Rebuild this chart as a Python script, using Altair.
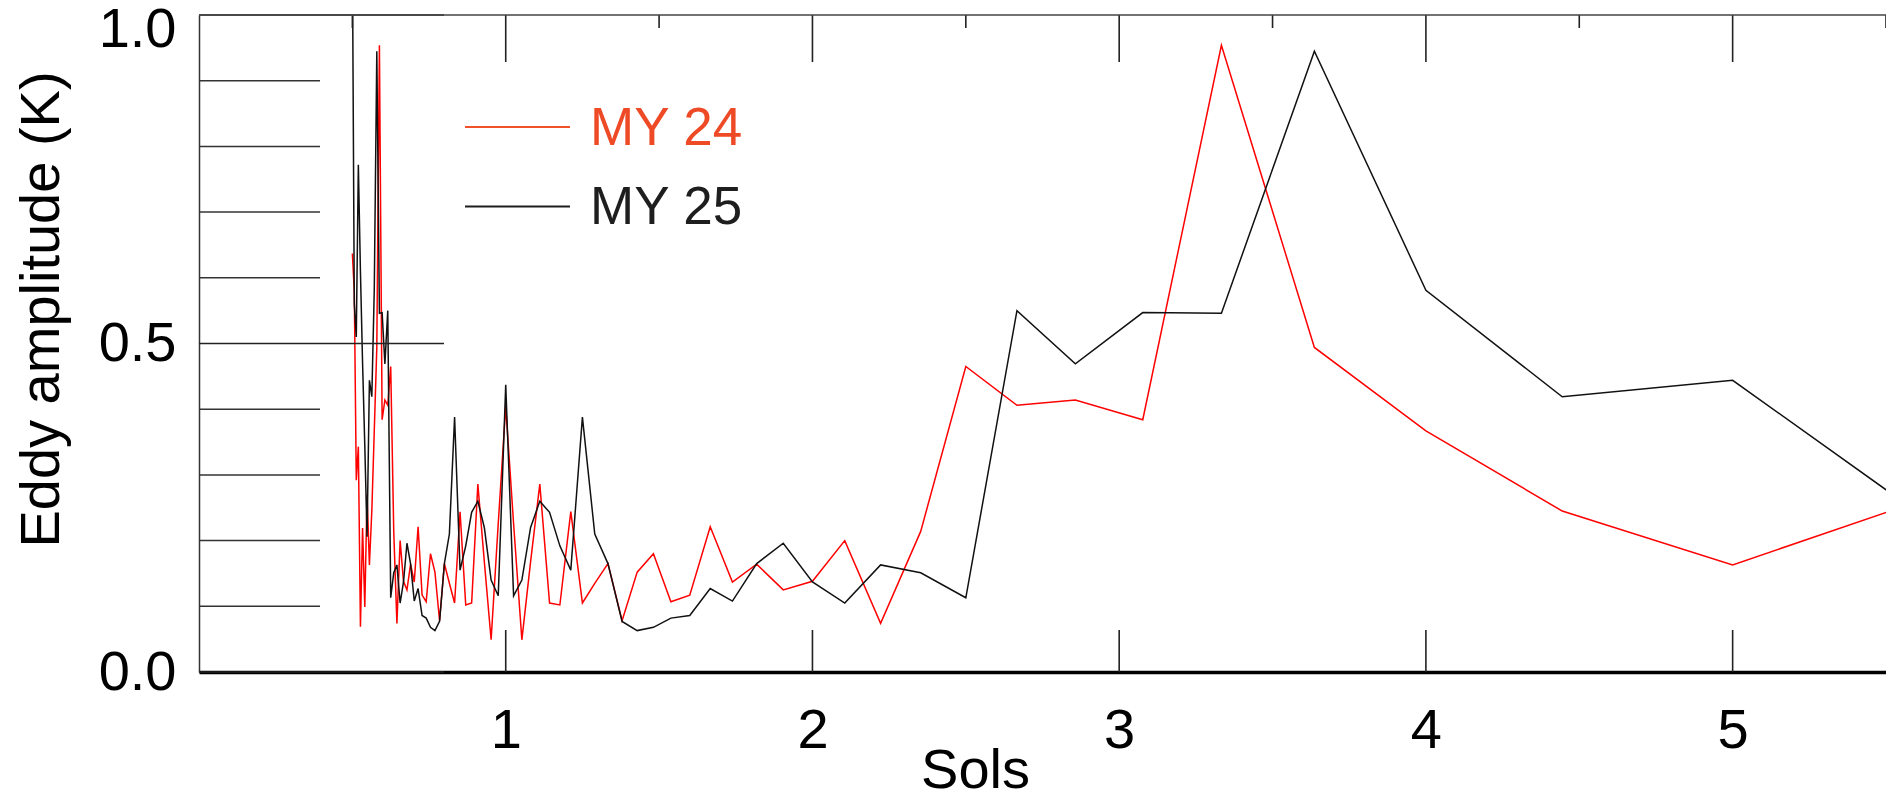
import altair as alt
import pandas as pd

# ---- data (period in sols, eddy amplitude in K) ----
periods_sols = [0.5, 0.5063, 0.5128, 0.5195, 0.5263, 0.5333, 0.5405, 0.5479, 0.5556, 0.5634,
                0.5714, 0.5797, 0.5882, 0.5970, 0.6061, 0.6154, 0.625, 0.6349, 0.6452, 0.6557,
                0.6667, 0.6780, 0.6897, 0.7018, 0.7143, 0.7273, 0.7407, 0.7547, 0.7692, 0.7843,
                0.8, 0.8163, 0.8333, 0.8511, 0.8696, 0.8889, 0.9091, 0.9302, 0.9524, 0.9756,
                1.0, 1.0256, 1.0526, 1.0811, 1.1111, 1.1429, 1.1765, 1.2121, 1.25, 1.2903,
                1.3333, 1.3793, 1.4286, 1.4815, 1.5385, 1.6, 1.6667, 1.7391, 1.8182, 1.9048,
                2.0, 2.1053, 2.2222, 2.3529, 2.5, 2.6667, 2.8571, 3.0769, 3.3333, 3.6364,
                4.0, 4.4444, 5.0, 5.7143]

my24_amp = [0.637, 0.58, 0.292, 0.343, 0.069, 0.219, 0.099, 0.270, 0.163, 0.245,
            0.367, 0.494, 0.954, 0.384, 0.414, 0.406, 0.465, 0.214, 0.074, 0.200,
            0.138, 0.125, 0.164, 0.137, 0.221, 0.117, 0.107, 0.180, 0.152, 0.078,
            0.165, 0.135, 0.105, 0.244, 0.102, 0.105, 0.286, 0.168, 0.049, 0.226,
            0.404, 0.226, 0.049, 0.168, 0.286, 0.105, 0.102, 0.244, 0.105, 0.135,
            0.165, 0.078, 0.152, 0.180, 0.107, 0.117, 0.221, 0.137, 0.164, 0.125,
            0.138, 0.200, 0.074, 0.214, 0.465, 0.406, 0.414, 0.384, 0.954, 0.494,
            0.367, 0.245, 0.163, 0.277]

my25_amp = [1.10, 0.56, 0.51, 0.772, 0.61, 0.47, 0.345, 0.206, 0.444, 0.419,
            0.581, 0.945, 0.546, 0.547, 0.469, 0.550, 0.113, 0.151, 0.163, 0.105,
            0.137, 0.196, 0.165, 0.108, 0.127, 0.086, 0.082, 0.068, 0.063, 0.077,
            0.165, 0.210, 0.388, 0.155, 0.192, 0.243, 0.260, 0.220, 0.140, 0.116,
            0.437, 0.116, 0.140, 0.220, 0.260, 0.243, 0.192, 0.155, 0.388, 0.210,
            0.165, 0.077, 0.063, 0.068, 0.082, 0.086, 0.127, 0.108, 0.165, 0.196,
            0.137, 0.105, 0.163, 0.151, 0.113, 0.550, 0.469, 0.547, 0.546, 0.945,
            0.581, 0.419, 0.444, 0.206]

series_names = ["MY 24", "MY 25"]
series_colors = ["#ff0000", "#111111"]
legend_text_colors = ["#ee4a26", "#1e1e1e"]
legend_line_colors = ["#f0502a", "#1e1e1e"]

x_major_ticks = [1, 2, 3, 4, 5]
x_minor_ticks = [0.5, 1.5, 2.5, 3.5, 4.5, 5.5]
y_major_ticks = [0.0, 0.5, 1.0]
y_minor_ticks = [0.1, 0.2, 0.3, 0.4, 0.6, 0.7, 0.8, 0.9]

# ---- layout ----
W, H = 1687, 657
FONT = "Liberation Sans"
FS = 56

n = len(periods_sols)
df = pd.DataFrame({
    "period": periods_sols * 2,
    "amp": my24_amp + my25_amp,
    "series": [series_names[0]] * n + [series_names[1]] * n,
})

x_scale = alt.Scale(domain=[0, 5.5], nice=False, zero=False)
y_scale = alt.Scale(domain=[0, 1.0], nice=False, zero=False)

x_axis = alt.Axis(
    values=x_major_ticks, format="d", ticks=False, tickSize=0, grid=False,
    domain=True, domainColor="#000000", domainWidth=3.5,
    labelFont=FONT, labelFontSize=FS, labelColor="#000000", labelPadding=31,
    labelFlush=False, labelBaseline="top", labelAlign="center",
    title="Sols", titleFont=FONT, titleFontSize=FS, titleFontWeight="normal",
    titleColor="#000000", titleX=776, titleY=115, titleAlign="center",
    titleBaseline="alphabetic",
)
y_axis = alt.Axis(
    values=y_major_ticks, format=".1f", ticks=False, tickSize=0, grid=False,
    domain=True, domainColor="#333333", domainWidth=1.5,
    labelFont=FONT, labelFontSize=FS, labelColor="#000000", labelPadding=23,
    labelFlush=False, labelBaseline="middle", labelAlign="right",
    labelOffset={"condition": {"test": "datum.value == 1", "value": 14}, "value": 0},
    title="Eddy amplitude (K)", titleFont=FONT, titleFontSize=FS,
    titleFontWeight="normal", titleColor="#000000", titleAngle=270,
    titleX=-141, titleY=294, titleAlign="center", titleBaseline="alphabetic",
)

X = alt.X("period:Q", scale=x_scale, axis=x_axis)
Y = alt.Y("amp:Q", scale=y_scale, axis=y_axis)

lines = alt.Chart(df).mark_line(clip=True, strokeWidth=1.5).encode(
    x=X, y=Y,
    color=alt.Color("series:N", scale=alt.Scale(domain=series_names, range=series_colors), legend=None),
)

xmaj = pd.DataFrame({"period": x_major_ticks})
xmin = pd.DataFrame({"period": x_minor_ticks})
ymaj = pd.DataFrame({"amp": y_major_ticks})
ymin = pd.DataFrame({"amp": y_minor_ticks})
one = pd.DataFrame({"a": [0]})

tick_color = "#222222"
bottom_ticks = alt.Chart(xmaj).mark_rule(color=tick_color, strokeWidth=1.6).encode(
    x=X, y=alt.value(H - 42), y2=alt.value(H))
top_major = alt.Chart(xmaj).mark_rule(color=tick_color, strokeWidth=1.6).encode(
    x=X, y=alt.value(0), y2=alt.value(47))
top_minor = alt.Chart(xmin).mark_rule(color=tick_color, strokeWidth=1.6).encode(
    x=X, y=alt.value(0), y2=alt.value(13))
left_major = alt.Chart(ymaj).mark_rule(color=tick_color, strokeWidth=1.5).encode(
    y=Y, x=alt.value(0), x2=alt.value(245))
left_minor = alt.Chart(ymin).mark_rule(color="#333333", strokeWidth=1.5).encode(
    y=Y, x=alt.value(0), x2=alt.value(121))
top_line = alt.Chart(one).mark_rule(color="#444444", strokeWidth=1.5).encode(
    x=alt.value(0), x2=alt.value(W), y=alt.value(0))

# ---- hand-drawn legend ----
leg_layers = []
leg_line_y = [112, 191.5]
leg_text_y = [130, 208.5]
for i, name in enumerate(series_names):
    leg_layers.append(
        alt.Chart(one).mark_rule(color=legend_line_colors[i], strokeWidth=1.8).encode(
            x=alt.value(266), x2=alt.value(371), y=alt.value(leg_line_y[i]))
    )
    leg_layers.append(
        alt.Chart(one).mark_text(
            text=name, font=FONT, fontSize=53, color=legend_text_colors[i],
            align="left", baseline="alphabetic",
        ).encode(x=alt.value(391), y=alt.value(leg_text_y[i]))
    )

chart = alt.layer(
    lines, bottom_ticks, top_major, top_minor, left_major, left_minor, top_line, *leg_layers
).properties(
    width=W, height=H,
    padding={"left": 191, "top": 7, "right": 0, "bottom": 121},
    autosize=alt.AutoSizeParams(type="none"),
).configure_view(stroke=None)

chart.save("out.html", embed_options={"renderer": "svg", "actions": False})
